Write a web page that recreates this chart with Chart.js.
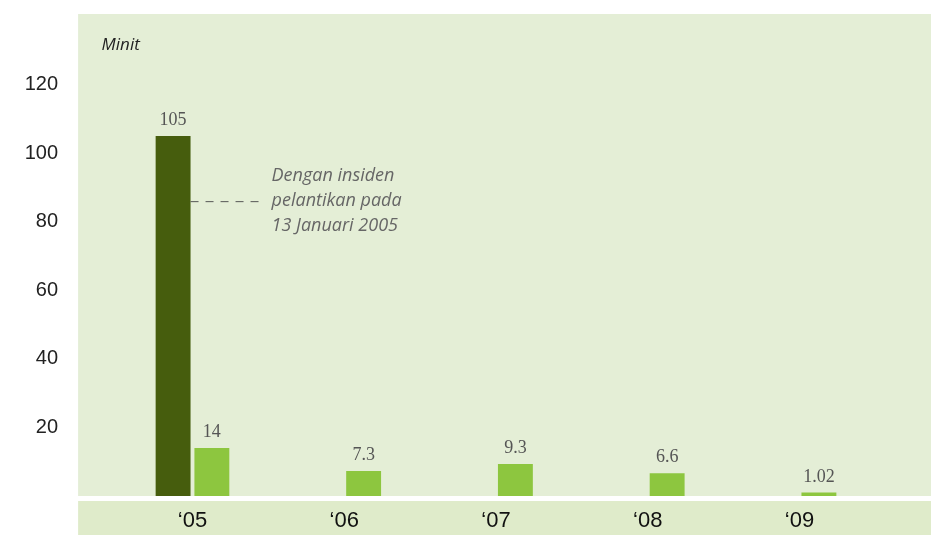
<!DOCTYPE html>
<html>
<head>
<meta charset="utf-8">
<script src="https://cdn.jsdelivr.net/npm/chart.js@4"></script>
<style>
  html, body { margin: 0; padding: 0; background: #fff; }
  #wrap { width: 932px; height: 535px; position: relative; }
</style>
</head>
<body>
<div id="wrap"><canvas id="downtimeChart"></canvas></div>
<script>
// ----------------------
// Data
// ----------------------
const years = ["\u201805", "\u201806", "\u201807", "\u201808", "\u201809"];
const incidentMinutes = [105, null, null, null, null];   // 2005 incl. the 13 Jan incident
const regularMinutes = [14, 7.3, 9.3, 6.6, 1.02];
const yTicks = [20, 40, 60, 80, 100, 120];
const unitLabel = "Minit";
const noteLines = ["Dengan insiden", "pelantikan pada", "13 Januari 2005"];
const noteValue = 86;

const darkGreen = "#465d0d";
const lightGreen = "#8dc63f";
const panelColor = "#e4eed6";
const bandColor = "#dfebca";

// ----------------------
// Background panel + bottom band
// ----------------------
const panelPlugin = {
  id: "panel",
  beforeDraw(chart) {
    const { ctx, chartArea } = chart;
    const left = chartArea.left - 38.5;
    const right = chart.width - 1;
    ctx.save();
    ctx.fillStyle = panelColor;
    ctx.fillRect(left, chartArea.top - 2, right - left, chartArea.bottom - chartArea.top + 2);
    ctx.fillStyle = bandColor;
    ctx.fillRect(left, chartArea.bottom + 5, right - left, chart.height - chartArea.bottom - 5);
    ctx.restore();
  }
};

// ----------------------
// Value labels, unit label, note
// ----------------------
const labelPlugin = {
  id: "labels",
  afterDatasetsDraw(chart) {
    const { ctx, chartArea, scales } = chart;
    ctx.save();
    ctx.textAlign = "center";
    ctx.textBaseline = "alphabetic";
    ctx.fillStyle = "#555";
    ctx.font = "18px 'Liberation Serif', 'DejaVu Serif', serif";
    chart.data.datasets.forEach((ds, i) => {
      chart.getDatasetMeta(i).data.forEach((bar, j) => {
        const v = ds.data[j];
        if (v === null) return;
        ctx.fillText(String(v), bar.x, bar.y - 11);
      });
    });

    // unit label
    ctx.textAlign = "left";
    ctx.fillStyle = "#222";
    ctx.font = "italic 17px 'Open Sans', sans-serif";
    ctx.fillText(unitLabel, chartArea.left - 15, chartArea.top + 34);

    // dashed leader from the 2005 incident bar
    const bigBar = chart.getDatasetMeta(0).data[0];
    const yNote = scales.y.getPixelForValue(noteValue);
    const x0 = bigBar.x + bigBar.width / 2;
    ctx.strokeStyle = "#555";
    ctx.lineWidth = 1;
    ctx.setLineDash([8, 7]);
    ctx.beginPath();
    ctx.moveTo(x0, yNote + 0.5);
    ctx.lineTo(x0 + 69, yNote + 0.5);
    ctx.stroke();
    ctx.setLineDash([]);

    ctx.fillStyle = "#666";
    ctx.font = "italic 18px 'Open Sans', sans-serif";
    ctx.textBaseline = "middle";
    noteLines.forEach((line, k) => {
      ctx.fillText(line, x0 + 81, yNote + (k - 1) * 25);
    });
    ctx.restore();
  }
};

new Chart(document.getElementById("downtimeChart"), {
  type: "bar",
  data: {
    labels: years,
    datasets: [
      { data: incidentMinutes, backgroundColor: darkGreen },
      { data: regularMinutes, backgroundColor: lightGreen }
    ]
  },
  options: {
    responsive: true,
    maintainAspectRatio: false,
    animation: false,
    categoryPercentage: 0.511,
    barPercentage: 0.9,
    layout: { padding: { top: 16, right: 56.6, bottom: 0, left: 0 } },
    plugins: {
      legend: { display: false },
      tooltip: { enabled: false }
    },
    scales: {
      x: {
        grid: { display: false, drawTicks: false },
        border: { display: false },
        ticks: {
          color: "#111",
          padding: 12,
          font: { family: "'Liberation Sans', Arial, sans-serif", size: 22 }
        },
        afterFit(scale) { scale.height = 39; }
      },
      y: {
        min: 0,
        max: 140,
        grid: { display: false, drawTicks: false },
        border: { display: false },
        afterBuildTicks(scale) {
          scale.ticks = yTicks.map(v => ({ value: v }));
        },
        ticks: {
          color: "#222",
          padding: 58.6,
          font: { family: "'Liberation Sans', Arial, sans-serif", size: 20 }
        },
        afterFit(scale) {
          // wide gap between labels and plot, without pushing the plot down
          scale.width = 116.6;
          scale.paddingTop = 0;
          scale.paddingBottom = 0;
        }
      }
    }
  },
  plugins: [panelPlugin, labelPlugin]
});
</script>
</body>
</html>
